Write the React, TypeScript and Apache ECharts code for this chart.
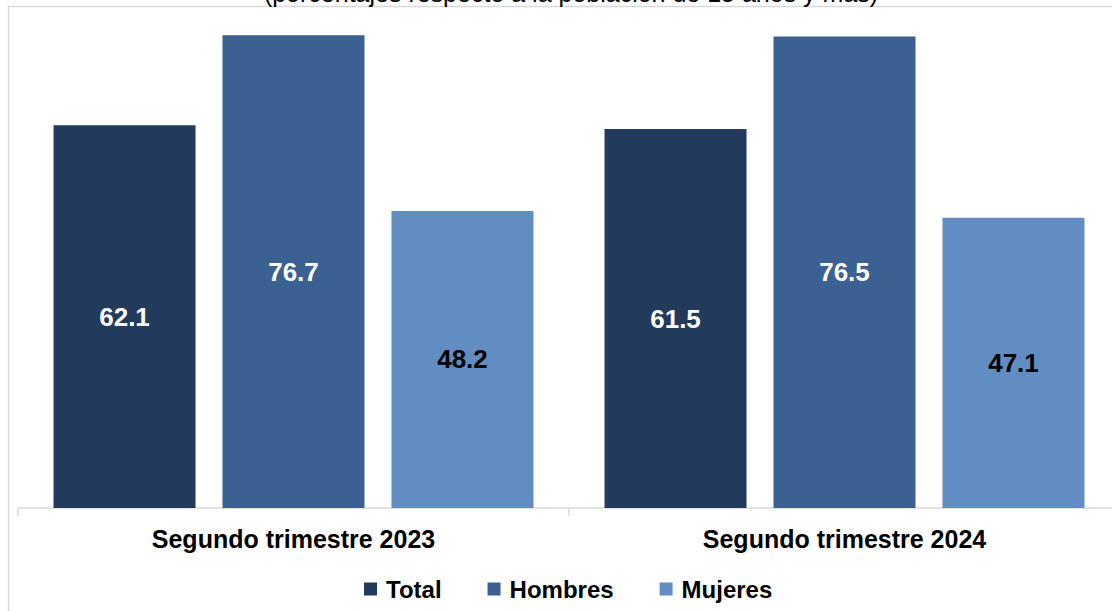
import React, { useEffect, useRef } from "react";
import * as echarts from "echarts";

const categories = ["Segundo trimestre 2023", "Segundo trimestre 2024"];
const seriesNames = ["Total", "Hombres", "Mujeres"];
const totalValues = [62.1, 61.5];
const hombresValues = [76.7, 76.5];
const mujeresValues = [48.2, 47.1];
const subtitle = "(porcentajes respecto a la población de 15 años y más)";

const colors = ["#223A5B", "#3A6191", "#618DC2"];
const labelColors = ["#FFFFFF", "#FFFFFF", "#000000"];
const FONT = "'Liberation Sans', Arial, Helvetica, sans-serif";

export default function App() {
  const ref = useRef<HTMLDivElement>(null);
  useEffect(() => {
    if (!ref.current) return;
    const chart = echarts.init(ref.current, null, { renderer: "svg" });
    const values = [totalValues, hombresValues, mujeresValues];
    chart.setOption({
      animation: false,
      backgroundColor: "#FFFFFF",
      textStyle: { fontFamily: FONT },
      graphic: [
        {
          type: "rect",
          shape: { x: 8.5, y: 6.5, width: 1300, height: 800 },
          style: { fill: "none", stroke: "#D9D9D9", lineWidth: 1.5 },
          silent: true,
        },
        {
          type: "text",
          x: 571,
          y: 5,
          style: {
            text: subtitle,
            font: `25px ${FONT}`,
            fill: "#000000",
            textAlign: "center",
            textVerticalAlign: "bottom",
          },
          silent: true,
        },
      ],
      grid: { left: 18, right: 0, top: 15, bottom: 103, containLabel: false },
      legend: {
        left: 364,
        top: 577,
        padding: 0,
        itemWidth: 13,
        itemHeight: 13,
        itemGap: 46,
        icon: "rect",
        data: seriesNames,
        textStyle: {
          fontFamily: FONT,
          fontSize: 24,
          fontWeight: "bold",
          color: "#000000",
          padding: [0, 0, 0, 4],
        },
      },
      xAxis: {
        type: "category",
        data: categories,
        axisLine: { show: true, lineStyle: { color: "#D9D9D9", width: 1.5 } },
        axisTick: { show: true, length: 8, alignWithLabel: false, lineStyle: { color: "#D9D9D9", width: 1.5 } },
        axisLabel: {
          margin: 18,
          fontFamily: FONT,
          fontSize: 25,
          fontWeight: "bold",
          color: "#000000",
        },
        splitLine: { show: false },
      },
      yAxis: {
        type: "value",
        min: 0,
        max: 80,
        show: false,
        splitLine: { show: false },
      },
      series: seriesNames.map((name, i) => ({
        name,
        type: "bar",
        data: values[i],
        barWidth: 142,
        barGap: "19%",
        itemStyle: { color: colors[i] },
        label: {
          show: true,
          position: "inside",
          formatter: (p: any) => Number(p.value).toFixed(1),
          fontFamily: FONT,
          fontSize: 26,
          fontWeight: "bold",
          color: labelColors[i],
        },
      })),
    });
    return () => chart.dispose();
  }, []);
  return (
    <div style={{ position: "fixed", left: 0, top: 0, width: 1112, height: 611, overflow: "hidden" }}>
      <div ref={ref} style={{ position: "absolute", left: 0, top: 0, width: 1120, height: 611 }} />
    </div>
  );
}
